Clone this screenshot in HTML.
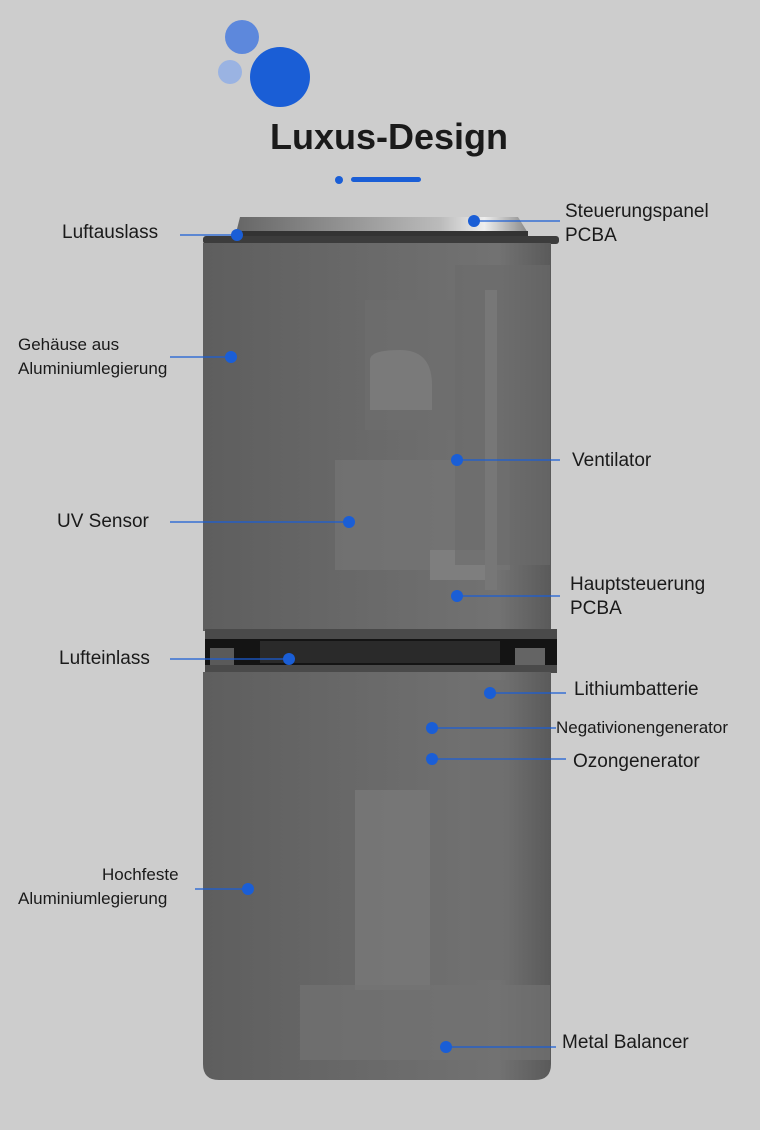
<!DOCTYPE html>
<html><head><meta charset="utf-8"><style>
body{margin:0;width:760px;height:1130px;background:#cdcdcd;font-family:"Liberation Sans",sans-serif;overflow:hidden;position:relative}
.t{position:absolute;color:#1a1a1a;font-size:19px;line-height:24px;white-space:nowrap}
.s{font-size:17px}
</style></head><body>
<svg width="760" height="1130" style="position:absolute;left:0;top:0">
<defs>
<linearGradient id="b" x1="0" x2="1"><stop offset="0" stop-color="#5e5e5e"/><stop offset=".5" stop-color="#6a6a6a"/><stop offset=".85" stop-color="#727272"/><stop offset="1" stop-color="#5a5a5a"/></linearGradient>
<linearGradient id="c" x1="0" x2="1"><stop offset="0" stop-color="#666"/><stop offset=".7" stop-color="#bbb"/><stop offset=".85" stop-color="#eee"/><stop offset="1" stop-color="#888"/></linearGradient>
</defs>
<circle cx="242" cy="37" r="17" fill="#5d88dc"/>
<circle cx="230" cy="72" r="12" fill="#9ab3e2"/>
<circle cx="280" cy="77" r="30" fill="#1a5ed6"/>
<circle cx="339" cy="180" r="4" fill="#1a5ed6"/>
<rect x="351" y="177" width="70" height="5" rx="2.5" fill="#1a5ed6"/>
<path d="M240 217 L518 217 L528 233 L236 233 Z" fill="url(#c)"/>
<rect x="236" y="231" width="292" height="5" fill="#333"/>
<rect x="203" y="236" width="356" height="8" rx="3" fill="#3c3c3c"/>
<rect x="203" y="243" width="348" height="388" fill="url(#b)"/>
<rect x="365" y="300" width="90" height="130" fill="#6e6e6e" opacity=".6"/>
<path d="M370 360 Q370 350 400 350 Q432 350 432 385 L432 410 L370 410Z" fill="#7a7a7a"/>
<rect x="335" y="460" width="175" height="110" fill="#757575" opacity=".7"/>
<rect x="430" y="550" width="65" height="30" fill="#7e7e7e"/>
<rect x="455" y="265" width="95" height="300" fill="#6b6b6b" opacity=".6"/>
<rect x="485" y="290" width="12" height="300" fill="#777"/>
<rect x="205" y="629" width="352" height="10" fill="#4a4a4a"/>
<rect x="205" y="639" width="352" height="26" fill="#141414"/>
<rect x="260" y="641" width="240" height="22" fill="#2a2a2a"/>
<rect x="210" y="648" width="24" height="18" fill="#888" opacity=".6"/>
<rect x="515" y="648" width="30" height="20" fill="#999" opacity=".6"/>
<rect x="205" y="665" width="352" height="8" fill="#4a4a4a"/>
<path d="M203 672 L551 672 L551 1064 Q551 1080 535 1080 L219 1080 Q203 1080 203 1064Z" fill="url(#b)"/>
<rect x="355" y="790" width="75" height="200" fill="#7a7a7a" opacity=".7"/>
<rect x="300" y="985" width="250" height="75" fill="#727272" opacity=".7"/>
<rect x="470" y="680" width="40" height="300" fill="#6e6e6e" opacity=".6"/>
<g stroke="#1a5ed6" stroke-width="1.3">
<line x1="180" y1="235" x2="237" y2="235"/>
<line x1="474" y1="221" x2="560" y2="221"/>
<line x1="170" y1="357" x2="231" y2="357"/>
<line x1="457" y1="460" x2="560" y2="460"/>
<line x1="170" y1="522" x2="349" y2="522"/>
<line x1="457" y1="596" x2="560" y2="596"/>
<line x1="170" y1="659" x2="289" y2="659"/>
<line x1="490" y1="693" x2="566" y2="693"/>
<line x1="432" y1="728" x2="556" y2="728"/>
<line x1="432" y1="759" x2="566" y2="759"/>
<line x1="195" y1="889" x2="248" y2="889"/>
<line x1="446" y1="1047" x2="556" y2="1047"/>
</g>
<g fill="#1a5ed6">
<circle cx="237" cy="235" r="6"/><circle cx="474" cy="221" r="6"/><circle cx="231" cy="357" r="6"/>
<circle cx="457" cy="460" r="6"/><circle cx="349" cy="522" r="6"/><circle cx="457" cy="596" r="6"/>
<circle cx="289" cy="659" r="6"/><circle cx="490" cy="693" r="6"/><circle cx="432" cy="728" r="6"/>
<circle cx="432" cy="759" r="6"/><circle cx="248" cy="889" r="6"/><circle cx="446" cy="1047" r="6"/>
</g>
</svg>
<div class="t" style="left:0;width:778px;text-align:center;top:116px;font-size:36px;font-weight:bold;line-height:42px">Luxus-Design</div>
<div class="t" style="left:62px;top:221px">Luftauslass</div>
<div class="t" style="left:565px;top:200px">Steuerungspanel<br>PCBA</div>
<div class="t s" style="left:18px;top:333px">Gehäuse aus<br>Aluminiumlegierung</div>
<div class="t" style="left:572px;top:449px">Ventilator</div>
<div class="t" style="left:57px;top:510px">UV Sensor</div>
<div class="t" style="left:570px;top:573px">Hauptsteuerung<br>PCBA</div>
<div class="t" style="left:59px;top:647px">Lufteinlass</div>
<div class="t" style="left:574px;top:678px">Lithiumbatterie</div>
<div class="t s" style="left:556px;top:716px">Negativionengenerator</div>
<div class="t" style="left:573px;top:750px">Ozongenerator</div>
<div class="t s" style="left:102px;top:863px">Hochfeste</div>
<div class="t s" style="left:18px;top:887px">Aluminiumlegierung</div>
<div class="t" style="left:562px;top:1031px">Metal Balancer</div>
</body></html>
